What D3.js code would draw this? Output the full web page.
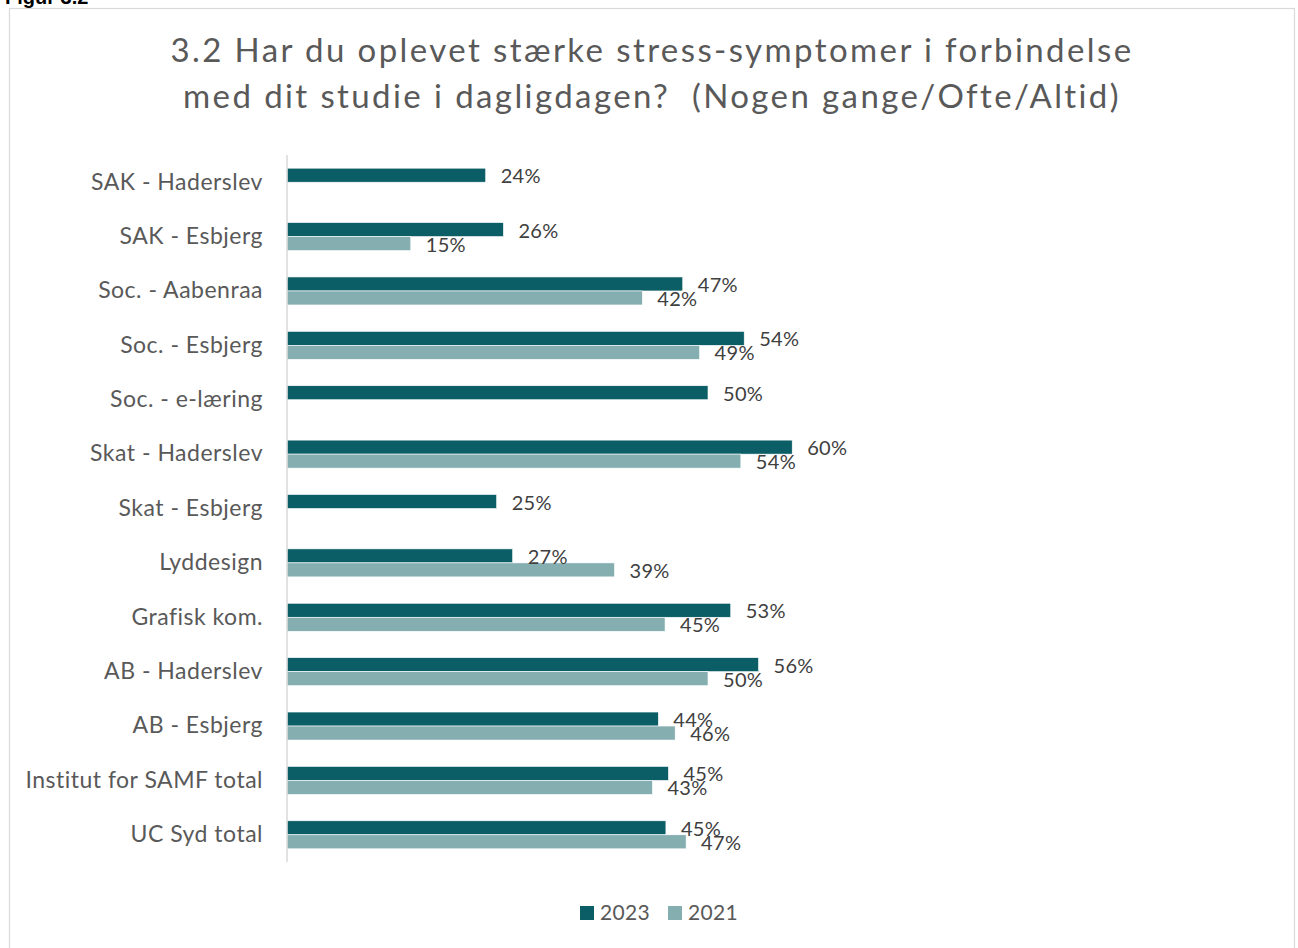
<!DOCTYPE html>
<meta charset="utf-8">
<style>
  body { margin: 0; background: #fff; }
  text { font-family: Lato, "Open Sans", sans-serif; }
</style>
<body>
<script src="https://cdn.jsdelivr.net/npm/d3@7"></script>
<script>

// Categories, top to bottom
var categories = [
  "SAK - Haderslev", "SAK - Esbjerg", "Soc. - Aabenraa", "Soc. - Esbjerg",
  "Soc. - e-læring", "Skat - Haderslev", "Skat - Esbjerg", "Lyddesign",
  "Grafisk kom.", "AB - Haderslev", "AB - Esbjerg", "Institut for SAMF total",
  "UC Syd total"
];

// Share (%) answering Nogen gange/Ofte/Altid; null = no 2021 data
var values2023 = [23.6, 25.7, 47.0, 54.3, 50.0, 60.0, 24.9, 26.8, 52.7, 56.0, 44.1, 45.3, 45.0];
var values2021 = [null, 14.7, 42.2, 49.0, null, 53.9, null, 38.9, 44.9, 50.0, 46.1, 43.4, 47.4];

var seriesNames = ["2023", "2021"];
var colors = ["#0b5e65", "#85aeb1"];

var W = 1298, H = 948;

// plot area
var margin = {top: 155, left: 287},
    plotH = 707,
    plotW = 842;

var svg = d3.select("body").append("svg")
    .attr("width", W)
    .attr("height", H);

// frame round the chart
svg.append("rect")
    .attr("x", 9.5).attr("y", 8.5)
    .attr("width", 1285).attr("height", 960)
    .attr("fill", "none")
    .attr("stroke", "#d9d9d9")
    .attr("stroke-width", 1.2);

// figure caption, mostly cut off above the frame
svg.append("text")
    .attr("x", 5).attr("y", 4)
    .style("font-family", "'Liberation Sans', Arial, sans-serif")
    .style("font-weight", "bold")
    .style("font-size", "20px")
    .attr("fill", "#000")
    .text("Figur 3.2");

// title
var title = svg.append("text")
    .attr("text-anchor", "middle")
    .attr("fill", "#595959")
    .style("font-size", "33px")
    .style("letter-spacing", "2.4px")
    .style("white-space", "pre");
title.append("tspan").attr("x", 652).attr("y", 62)
    .text("3.2 Har du oplevet stærke stress-symptomer i forbindelse");
title.append("tspan").attr("x", 652).attr("y", 108)
    .text("med dit studie i dagligdagen?  (Nogen gange/Ofte/Altid)");

var g = svg.append("g")
    .attr("transform", "translate(" + margin.left + "," + margin.top + ")");

var x = d3.scaleLinear()
    .domain([0, 100])
    .range([0, plotW]);

var y0 = d3.scaleBand()
    .domain(categories)
    .range([0, plotH])
    .paddingInner(0.485)
    .paddingOuter(0.2425);

var y1 = d3.scaleBand()
    .domain(seriesNames)
    .range([0, y0.bandwidth()]);

var rows = categories.map(function(c, i) {
  return {cat: c, vals: [
    {s: "2023", v: values2023[i]},
    {s: "2021", v: values2021[i]}
  ]};
});

var fmt = function(v) { return Math.round(v) + "%"; };

var row = g.selectAll(".row")
    .data(rows)
  .enter().append("g")
    .attr("class", "row")
    .attr("transform", function(d) { return "translate(0," + y0(d.cat) + ")"; });

var bar = row.selectAll(".bar")
    .data(function(d) { return d.vals.filter(function(e) { return e.v != null; }); })
  .enter();

bar.append("rect")
    .attr("x", 0)
    .attr("y", function(d) { return y1(d.s); })
    .attr("width", function(d) { return x(d.v); })
    .attr("height", y1.bandwidth())
    .attr("fill", function(d) { return colors[seriesNames.indexOf(d.s)]; })
    .attr("stroke", "#fff")
    .attr("stroke-width", 0.6);

bar.append("text")
    .attr("x", function(d) { return x(d.v) + 15; })
    .attr("y", function(d) { return y1(d.s) + y1.bandwidth() / 2 + 1; })
    .attr("dy", "0.35em")
    .attr("fill", "#404040")
    .style("font-size", "20px")
    .style("letter-spacing", "0.3px")
    .text(function(d) { return fmt(d.v); });

// category axis
var yAxis = g.append("g")
    .call(d3.axisLeft(y0).tickSize(0).tickPadding(24));
yAxis.select(".domain")
    .attr("stroke", "#d9d9d9")
    .attr("stroke-width", 1.5)
    .attr("d", "M0,0V" + plotH);
yAxis.selectAll("text")
    .attr("fill", "#595959")
    .style("font-family", "Lato, sans-serif")
    .style("font-size", "23px")
    .style("letter-spacing", "0.5px");

// legend
var legend = svg.append("g")
    .attr("transform", "translate(580,906)");
var legX = [0, 88];
seriesNames.forEach(function(s, i) {
  legend.append("rect")
      .attr("x", legX[i]).attr("y", 0)
      .attr("width", 14).attr("height", 14)
      .attr("fill", colors[i]);
  legend.append("text")
      .attr("x", legX[i] + 20).attr("y", 7)
      .attr("dy", "0.35em")
      .attr("fill", "#595959")
      .style("font-size", "21px")
      .style("letter-spacing", "0.3px")
      .text(s);
});

</script>
</body>
